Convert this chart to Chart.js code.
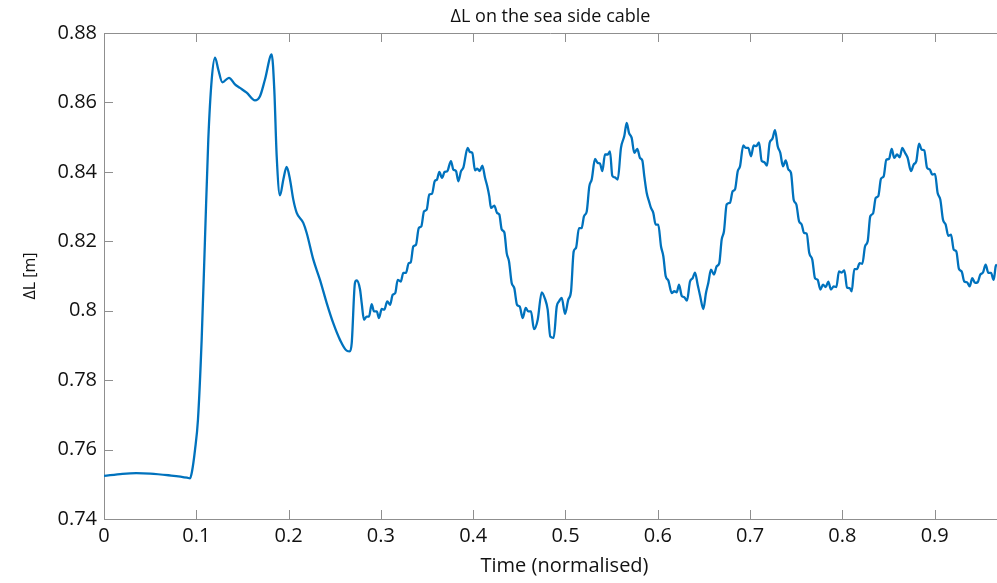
<!DOCTYPE html>
<html>
<head>
<meta charset="utf-8">
<title>ΔL on the sea side cable</title>
<script src="https://cdn.jsdelivr.net/npm/chart.js@4.4.1/dist/chart.umd.min.js"></script>
<style>
  html, body { margin: 0; padding: 0; background: #fff; }
  #wrap { width: 997px; height: 583px; position: relative; }
</style>
</head>
<body>
<div id="wrap"><canvas id="cableChart"></canvas></div>
<script>
// normalised time
const timeVals = [
    0, 0.02, 0.035, 0.05, 0.07, 0.09, 0.0932, 0.0953, 0.0986, 0.1018,
    0.1058, 0.1094, 0.1130, 0.1167, 0.1203, 0.1238, 0.1282, 0.1354, 0.1419, 0.1473,
    0.1546, 0.1636, 0.1690, 0.1744, 0.1817, 0.1845, 0.1871, 0.1907, 0.1943, 0.1979,
    0.2015, 0.2051, 0.2088, 0.2159, 0.2196, 0.2268, 0.2340, 0.2413, 0.2484, 0.2557,
    0.2629, 0.2665, 0.2684, 0.2719, 0.2738, 0.2774, 0.2792, 0.2817, 0.2846, 0.2871,
    0.2900, 0.2925, 0.2955, 0.2979, 0.3009, 0.3037, 0.3069, 0.3099, 0.3128, 0.3156,
    0.3182, 0.3215, 0.3243, 0.3272, 0.3301, 0.3323, 0.3351, 0.3380, 0.3410, 0.3438,
    0.3467, 0.3496, 0.3524, 0.3554, 0.3583, 0.3608, 0.3633, 0.3662, 0.3691, 0.3719,
    0.3759, 0.3784, 0.3814, 0.3839, 0.3868, 0.3893, 0.3940, 0.3965, 0.3990, 0.4020,
    0.4044, 0.4070, 0.4099, 0.4128, 0.4153, 0.4174, 0.4193, 0.4229, 0.4258, 0.4283,
    0.4309, 0.4337, 0.4363, 0.4388, 0.4417, 0.4445, 0.4475, 0.4504, 0.4536, 0.4569,
    0.4597, 0.4626, 0.4659, 0.4699, 0.4742, 0.4778, 0.4807, 0.4835, 0.4872, 0.4905,
    0.4930, 0.4959, 0.4995, 0.5030, 0.5060, 0.5089, 0.5114, 0.5146, 0.5175, 0.5200,
    0.5230, 0.5258, 0.5284, 0.5320, 0.5349, 0.5374, 0.5399, 0.5428, 0.5457, 0.5482,
    0.5507, 0.5536, 0.5566, 0.5601, 0.5637, 0.5663, 0.5688, 0.5717, 0.5745, 0.5778,
    0.5807, 0.5832, 0.5854, 0.5880, 0.5905, 0.5926, 0.5951, 0.5977, 0.6005, 0.6035,
    0.6060, 0.6086, 0.6114, 0.6151, 0.6179, 0.6205, 0.6230, 0.6259, 0.6287, 0.6316,
    0.6349, 0.6378, 0.6403, 0.6432, 0.6460, 0.6493, 0.6522, 0.6547, 0.6576, 0.6609,
    0.6638, 0.6666, 0.6692, 0.6717, 0.6746, 0.6782, 0.6811, 0.6836, 0.6866, 0.6891,
    0.6926, 0.6952, 0.6980, 0.7010, 0.7039, 0.7067, 0.7096, 0.7126, 0.7154, 0.7183,
    0.7212, 0.7241, 0.7270, 0.7299, 0.7327, 0.7356, 0.7386, 0.7414, 0.7443, 0.7472,
    0.7501, 0.7530, 0.7559, 0.7584, 0.7613, 0.7641, 0.7674, 0.7703, 0.7732, 0.7761,
    0.7790, 0.7819, 0.7847, 0.7876, 0.7906, 0.7934, 0.7963, 0.7992, 0.8021, 0.8050,
    0.8079, 0.8101, 0.8129, 0.8158, 0.8187, 0.8216, 0.8245, 0.8274, 0.8302, 0.8332,
    0.8361, 0.8389, 0.8418, 0.8447, 0.8476, 0.8505, 0.8534, 0.8562, 0.8592, 0.8621,
    0.8649, 0.8678, 0.8707, 0.8743, 0.8772, 0.8801, 0.8830, 0.8859, 0.8887, 0.8917,
    0.8946, 0.8974, 0.9003, 0.9032, 0.9061, 0.9090, 0.9119, 0.9147, 0.9177, 0.9206,
    0.9234, 0.9263, 0.9292, 0.9321, 0.9350, 0.9379, 0.9407, 0.9437, 0.9466, 0.9494,
    0.9523, 0.9552, 0.9581, 0.9610, 0.9639, 0.9661, 0.9675
];

// length change of the sea side cable [m]
const deltaL = [
    0.7524, 0.7530, 0.7532, 0.7531, 0.7526, 0.7519, 0.7517, 0.7536, 0.7599, 0.7686,
    0.7916, 0.8205, 0.8493, 0.8666, 0.8729, 0.8695, 0.8658, 0.8671, 0.8652, 0.8642,
    0.8628, 0.8606, 0.8618, 0.8666, 0.8738, 0.8637, 0.8445, 0.8332, 0.8378, 0.8414,
    0.8378, 0.8320, 0.8282, 0.8253, 0.8224, 0.8147, 0.8089, 0.8022, 0.7964, 0.7916,
    0.7885, 0.7883, 0.7907, 0.8080, 0.8087, 0.8061, 0.8022, 0.7974, 0.7983, 0.7983,
    0.8019, 0.7998, 0.7998, 0.7979, 0.8005, 0.8003, 0.8027, 0.8017, 0.8046, 0.8051,
    0.8089, 0.8084, 0.8109, 0.8109, 0.8137, 0.8139, 0.8185, 0.8190, 0.8238, 0.8243,
    0.8286, 0.8291, 0.8335, 0.8337, 0.8373, 0.8378, 0.8400, 0.8383, 0.8400, 0.8402,
    0.8431, 0.8407, 0.8402, 0.8373, 0.8402, 0.8412, 0.8469, 0.8457, 0.8455, 0.8404,
    0.8409, 0.8402, 0.8418, 0.8383, 0.8358, 0.8330, 0.8296, 0.8303, 0.8282, 0.8277,
    0.8234, 0.8226, 0.8166, 0.8142, 0.8080, 0.8065, 0.8017, 0.8012, 0.7979, 0.8008,
    0.7998, 0.7998, 0.7947, 0.7974, 0.8053, 0.8034, 0.8003, 0.7926, 0.7922, 0.8012,
    0.8027, 0.8037, 0.7991, 0.8032, 0.8056, 0.8171, 0.8181, 0.8238, 0.8238, 0.8272,
    0.8286, 0.8358, 0.8378, 0.8437, 0.8426, 0.8424, 0.8402, 0.8450, 0.8450, 0.8459,
    0.8389, 0.8384, 0.8378, 0.8469, 0.8503, 0.8541, 0.8512, 0.8498, 0.8455, 0.8466,
    0.8440, 0.8433, 0.8387, 0.8339, 0.8315, 0.8296, 0.8282, 0.8248, 0.8248, 0.8185,
    0.8157, 0.8099, 0.8087, 0.8051, 0.8056, 0.8053, 0.8075, 0.8043, 0.8039, 0.8029,
    0.8084, 0.8094, 0.8110, 0.8075, 0.8041, 0.8005, 0.8051, 0.8080, 0.8118, 0.8104,
    0.8128, 0.8137, 0.8205, 0.8229, 0.8306, 0.8311, 0.8344, 0.8349, 0.8402, 0.8416,
    0.8476, 0.8469, 0.8469, 0.8445, 0.8476, 0.8474, 0.8485, 0.8431, 0.8428, 0.8418,
    0.8484, 0.8495, 0.8520, 0.8474, 0.8455, 0.8416, 0.8433, 0.8407, 0.8397, 0.8320,
    0.8306, 0.8258, 0.8248, 0.8224, 0.8222, 0.8166, 0.8147, 0.8094, 0.8089, 0.8061,
    0.8075, 0.8068, 0.8084, 0.8061, 0.8070, 0.8068, 0.8113, 0.8110, 0.8116, 0.8067,
    0.8065, 0.8056, 0.8120, 0.8120, 0.8137, 0.8135, 0.8185, 0.8200, 0.8272, 0.8280,
    0.8325, 0.8330, 0.8380, 0.8387, 0.8435, 0.8437, 0.8466, 0.8440, 0.8450, 0.8442,
    0.8469, 0.8455, 0.8440, 0.8402, 0.8421, 0.8431, 0.8481, 0.8464, 0.8462, 0.8412,
    0.8407, 0.8392, 0.8394, 0.8339, 0.8320, 0.8262, 0.8248, 0.8216, 0.8219, 0.8176,
    0.8171, 0.8120, 0.8113, 0.8084, 0.8082, 0.8070, 0.8094, 0.8080, 0.8082, 0.8104,
    0.8110, 0.8133, 0.8109, 0.8109, 0.8089, 0.8128, 0.8133
];

const xTickVals = [0, 0.1, 0.2, 0.3, 0.4, 0.5, 0.6, 0.7, 0.8, 0.9];
const xTickLabels = ['0', '0.1', '0.2', '0.3', '0.4', '0.5', '0.6', '0.7', '0.8', '0.9'];
const yTickVals = [0.74, 0.76, 0.78, 0.80, 0.82, 0.84, 0.86, 0.88];
const yTickLabels = ['0.74', '0.76', '0.78', '0.8', '0.82', '0.84', '0.86', '0.88'];

const axisGrey = '#8f8f8f';
const fontFamily = "'Open Sans', 'Noto Sans', sans-serif";

// matlab-style box: top edge plus tick marks pointing into the plot,
// and the x label, which sits a little right of the visible axis centre
const innerTicks = {
    id: 'innerTicks',
    afterDraw(chart) {
        const { ctx, chartArea: a, scales: { x, y } } = chart;
        const len = 9;
        ctx.save();
        ctx.strokeStyle = axisGrey;
        ctx.lineWidth = 1;
        ctx.beginPath();
        ctx.moveTo(a.left, a.top + 0.5);
        ctx.lineTo(a.right, a.top + 0.5);
        xTickVals.forEach(v => {
            const px = Math.round(x.getPixelForValue(v)) + 0.5;
            ctx.moveTo(px, a.bottom);
            ctx.lineTo(px, a.bottom - len);
            ctx.moveTo(px, a.top);
            ctx.lineTo(px, a.top + len);
        });
        yTickVals.forEach(v => {
            const py = Math.round(y.getPixelForValue(v)) + 0.5;
            ctx.moveTo(a.left, py);
            ctx.lineTo(a.left + len, py);
        });
        ctx.stroke();

        ctx.fillStyle = '#111';
        ctx.font = '20px ' + fontFamily;
        ctx.textAlign = 'center';
        ctx.textBaseline = 'middle';
        ctx.fillText('Time (normalised)', (a.left + a.right) / 2 + 14, 566);
        ctx.restore();
    }
};

const ctx = document.getElementById('cableChart').getContext('2d');
const cableChart = new Chart(ctx, {
    type: 'line',
    data: {
        datasets: [{
            label: 'ΔL',
            data: timeVals.map((t, i) => ({ x: t, y: deltaL[i] })),
            borderColor: 'rgb(0,114,189)',
            borderWidth: 2.3,
            pointRadius: 0,
            fill: false,
            cubicInterpolationMode: 'monotone',
        }],
    },
    options: {
        responsive: true,
        maintainAspectRatio: false,
        animation: false,
        layout: { padding: 0 },
        scales: {
            x: {
                type: 'linear',
                min: 0,
                max: 0.9675,
                grid: { display: false, drawTicks: false },
                border: { display: true, color: axisGrey, width: 1 },
                afterBuildTicks: scale => {
                    scale.ticks = xTickVals.map(v => ({ value: v }));
                },
                afterFit: scale => { scale.height = 64; },
                ticks: {
                    color: '#111',
                    font: { family: fontFamily, size: 20 },
                    padding: 5,
                    maxRotation: 0,
                    autoSkip: false,
                    callback: (value, index) => xTickLabels[index],
                },
            },
            y: {
                type: 'linear',
                min: 0.74,
                max: 0.88,
                grid: { display: false, drawTicks: false },
                border: { display: true, color: axisGrey, width: 1 },
                afterBuildTicks: scale => {
                    scale.ticks = yTickVals.map(v => ({ value: v }));
                },
                afterFit: scale => { scale.width = 104; },
                ticks: {
                    color: '#111',
                    font: { family: fontFamily, size: 20 },
                    padding: 7,
                    autoSkip: false,
                    callback: (value, index) => yTickLabels[index],
                },
                title: {
                    display: true,
                    text: 'ΔL [m]',
                    color: '#111',
                    font: { family: fontFamily, size: 16 },
                    padding: { top: 21, bottom: 0 },
                },
            },
        },
        plugins: {
            legend: { display: false },
            tooltip: { enabled: false },
            title: {
                display: true,
                fullSize: false,
                text: 'ΔL on the sea side cable',
                color: '#111',
                font: { family: fontFamily, size: 18, weight: 'normal' },
                padding: { top: 6.4, bottom: 5 },
            },
        },
    },
    plugins: [innerTicks],
});
</script>
</body>
</html>
